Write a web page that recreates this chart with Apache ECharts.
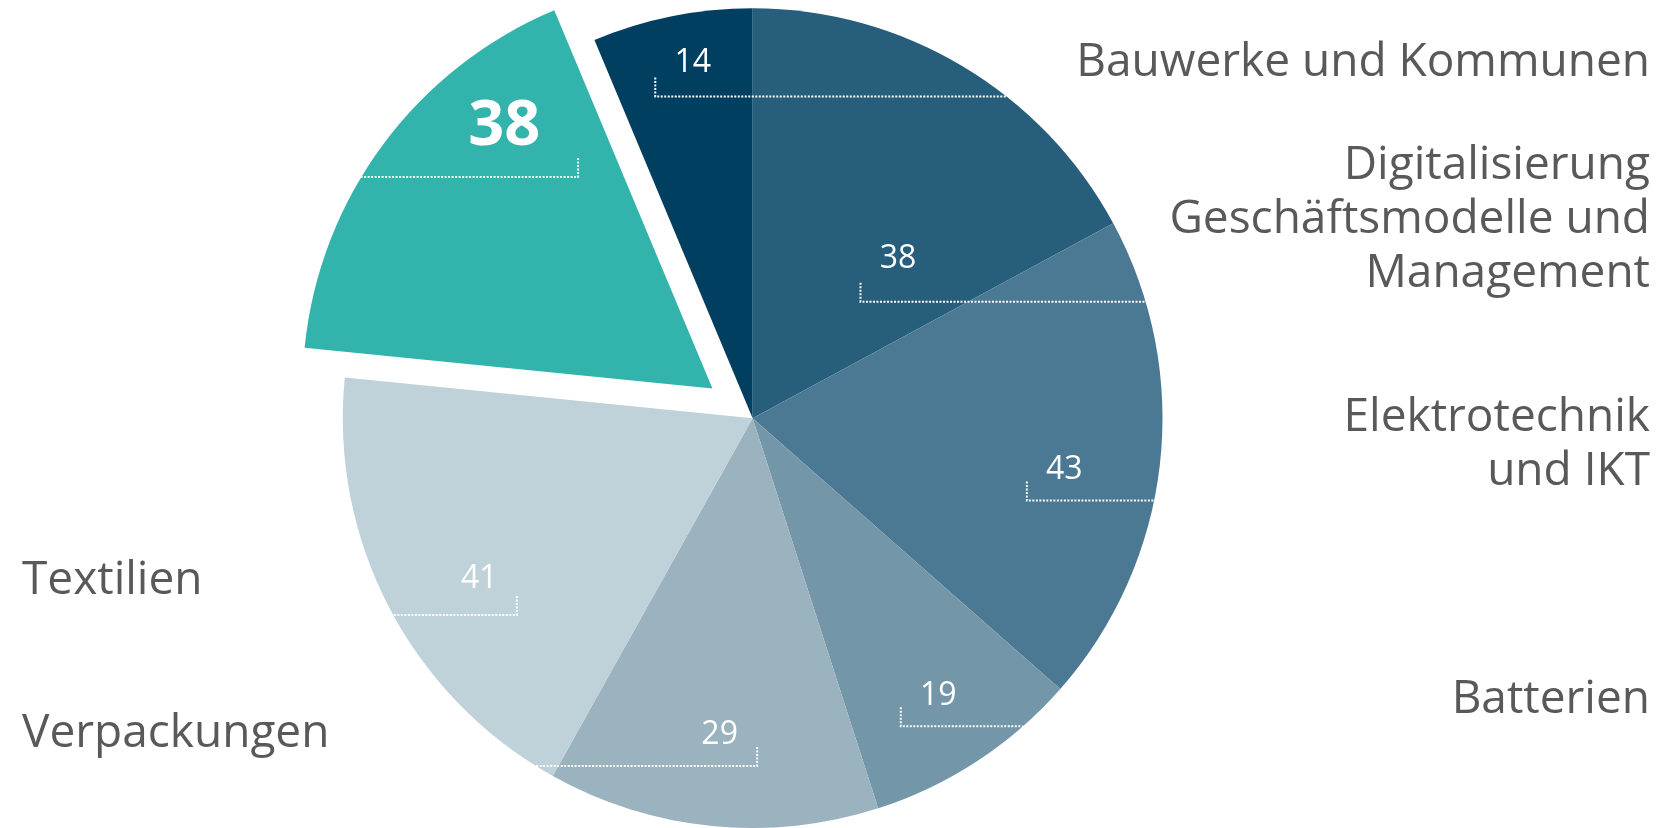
<!DOCTYPE html>
<html>
<head>
<meta charset="utf-8">
<script src="https://cdn.jsdelivr.net/npm/echarts@6/dist/echarts.min.js"></script>
<style>
html, body { margin: 0; padding: 0; background: #fff; }
#main { width: 1680px; height: 828px; }
</style>
</head>
<body>
<div id="main"></div>
<script>
// slices clockwise from 12 o'clock
var categories = ['Bauwerke und Kommunen', 'Digitalisierung Geschäftsmodelle und Management',
    'Elektrotechnik und IKT', 'Batterien', 'Verpackungen', 'Textilien', ''];
var values = [38, 43, 19, 29, 41, 38, 14];
var highlighted = 5;

// text beside the pie
var rightTexts = ['Bauwerke und Kommunen', 'Digitalisierung\nGeschäftsmodelle und\nManagement',
    'Elektrotechnik\nund IKT', 'Batterien'];
var leftTexts = ['Textilien', 'Verpackungen'];

var colors = ['#275e7b', '#4b7892', '#7396a8', '#9bb2bf', '#bfd1d9', '#32b3ac', '#013f60'];
// label spot per slice: [angle from top in deg, fraction of radius, leader direction, tick drop px]
var labelSpots = [[42, 0.53, 1, 26], [99, 0.77, 1, 14], [146, 0.81, 1, 14], [186, 0.77, -1, 15],
    [240, 0.77, -1, 20], [322, 0.825, -1, 36], [350.5, 0.885, 1, 17]];

var centerFrac = [0.448, 0.505];
var radiusFrac = 0.99;
var explode = 50;
var textColor = '#595959';
var font = 'Open Sans';
var clear = 'rgba(0,0,0,0)';

var total = values.reduce(function (a, b) { return a + b; }, 0);
function midAngle(i) {
    var before = 0;
    for (var k = 0; k < i; k++) before += values[k];
    return (before + values[i] / 2) / total * Math.PI * 2;
}

var myChart = echarts.init(document.getElementById('main'));
var W = myChart.getWidth(), H = myChart.getHeight();
var R = radiusFrac * Math.min(W, H) / 2;
var mainCenter = [centerFrac[0] * W, centerFrac[1] * H];
var mHi = midAngle(highlighted);
var outCenter = [mainCenter[0] + Math.sin(mHi) * explode, mainCenter[1] - Math.cos(mHi) * explode];

function labelPlacer(center) {
    return function (params) {
        var i = params.dataIndex;
        var cx = center[0], cy = center[1];
        var spot = labelSpots[i];
        var a = spot[0] * Math.PI / 180;
        var fs = i === highlighted ? 63 : 32;
        var x = cx + Math.sin(a) * spot[1] * R;
        var y0 = cy - Math.cos(a) * spot[1] * R;
        var dir = spot[2];
        var tickX = x - dir * (params.labelRect.width / 2 + fs * 0.6);
        var tickTop = y0 + spot[3];
        var lineY = tickTop + 19;
        var edgeX = cx + dir * Math.sqrt(R * R - (lineY - cy) * (lineY - cy));
        return {
            x: x,
            y: y0 + fs * 0.08,
            align: 'center',
            verticalAlign: 'middle',
            labelLinePoints: [[tickX, tickTop], [tickX, lineY], [edgeX, lineY]]
        };
    };
}

// shown: which slices belong to this pie; labelled = transparent overlay that carries labels + leader lines
function pieSeries(center, shown, labelled) {
    var s = {
        type: 'pie',
        silent: true,
        z: labelled ? 3 : 2,
        center: center,
        radius: R,
        startAngle: 90,
        clockwise: true,
        avoidLabelOverlap: false,
        itemStyle: { borderWidth: 0 },
        label: {
            show: labelled,
            position: 'outside',
            formatter: '{c}',
            color: '#fff',
            fontFamily: font,
            fontSize: 32
        },
        labelLine: {
            show: labelled,
            smooth: false,
            lineStyle: { color: '#fff', width: 2, type: [2, 1.5] }
        },
        data: values.map(function (v, i) {
            var item = {
                name: categories[i],
                value: v,
                itemStyle: { color: (labelled || !shown(i)) ? clear : colors[i] }
            };
            if (labelled && !shown(i)) {
                item.label = { show: false };
                item.labelLine = { show: false };
            } else if (labelled && i === highlighted) {
                item.label = { fontSize: 63, fontWeight: 'bold' };
            }
            return item;
        })
    };
    if (labelled) s.labelLayout = labelPlacer(center);
    return s;
}

function notHi(i) { return i !== highlighted; }
function isHi(i) { return i === highlighted; }

var graphics = [];
var rightTops = [36, 139, 391, 673];
rightTexts.forEach(function (t, i) {
    graphics.push({
        type: 'text', right: 30, top: rightTops[i],
        style: { text: t, align: 'right', textAlign: 'right', fill: textColor,
            font: '46px "Open Sans"', lineHeight: 54 }
    });
});
var leftTops = [554, 707];
leftTexts.forEach(function (t, i) {
    graphics.push({
        type: 'text', left: 22, top: leftTops[i],
        style: { text: t, fill: textColor, font: '46px "Open Sans"', lineHeight: 54 }
    });
});

option = {
    animation: false,
    backgroundColor: '#fff',
    graphic: graphics,
    series: [
        pieSeries(mainCenter, notHi, false),
        pieSeries(outCenter, isHi, false),
        pieSeries(mainCenter, notHi, true),
        pieSeries(outCenter, isHi, true)
    ]
};
myChart.setOption(option);
</script>
</body>
</html>
